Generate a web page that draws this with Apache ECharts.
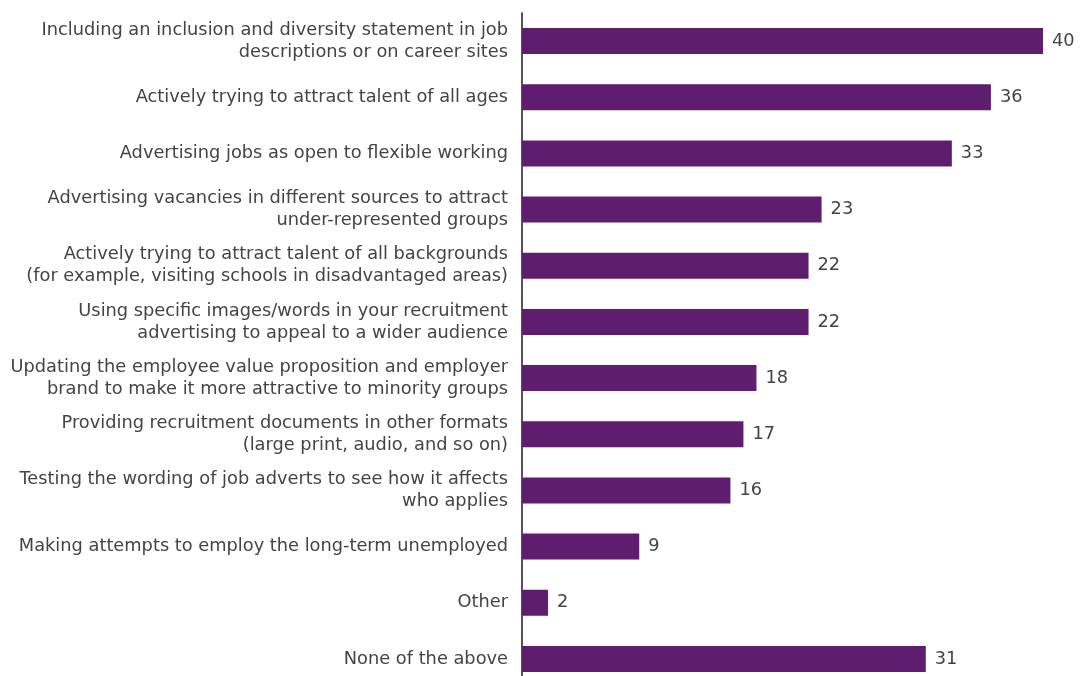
<!DOCTYPE html>
<html>
<head>
<meta charset="utf-8">
<script src="https://cdn.jsdelivr.net/npm/echarts@6/dist/echarts.min.js"></script>
<style>
  html, body { margin: 0; padding: 0; background: #ffffff; overflow: hidden; }
  #chart { width: 1085px; height: 700px; }
</style>
</head>
<body>
<div id="chart"></div>
<script>
// Recruitment practices, percentage of respondents (top to bottom)
const categories = [
  'Including an inclusion and diversity statement in job\ndescriptions or on career sites',
  'Actively trying to attract talent of all ages',
  'Advertising jobs as open to flexible working',
  'Advertising vacancies in different sources to attract\nunder-represented groups',
  'Actively trying to attract talent of all backgrounds\n(for example, visiting schools in disadvantaged areas)',
  'Using specific images/words in your recruitment\nadvertising to appeal to a wider audience',
  'Updating the employee value proposition and employer\nbrand to make it more attractive to minority groups',
  'Providing recruitment documents in other formats\n(large print, audio, and so on)',
  'Testing the wording of job adverts to see how it affects\nwho applies',
  'Making attempts to employ the long-term unemployed',
  'Other',
  'None of the above'
];
const values = [40, 36, 33, 23, 22, 22, 18, 17, 16, 9, 2, 31];

const labelFont = 'DejaVu Sans';

const chart = echarts.init(document.getElementById('chart'));
chart.setOption({
  animation: false,
  grid: { left: 522, top: 13, width: 521, height: 674 },
  xAxis: {
    type: 'value', min: 0, max: 40,
    show: false
  },
  yAxis: {
    type: 'category',
    data: categories,
    inverse: true,
    axisLine: { show: true, lineStyle: { color: '#555555', width: 2 } },
    axisTick: { show: false },
    axisLabel: {
      margin: 14,
      color: '#444444',
      fontFamily: labelFont,
      fontSize: 17.8,
      lineHeight: 22,
      align: 'right'
    }
  },
  series: [{
    type: 'bar',
    data: values,
    barWidth: 26,
    itemStyle: { color: '#5e1d6e' },
    label: {
      show: true,
      position: 'right',
      distance: 9,
      color: '#444444',
      fontFamily: labelFont,
      fontSize: 17.8
    }
  }]
});
</script>
</body>
</html>
